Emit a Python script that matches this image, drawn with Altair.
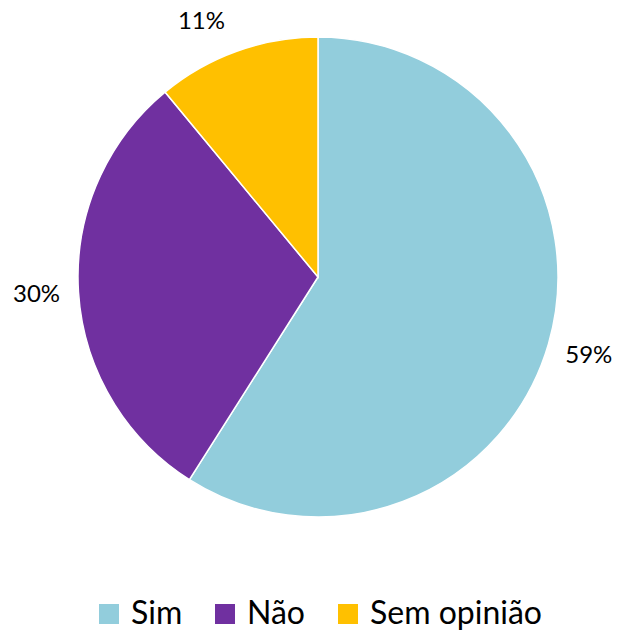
import altair as alt
import pandas as pd

categories = ["Sim", "Não", "Sem opinião"]
values = [59, 30, 11]
labels = ["59%", "30%", "11%"]
colors = ["#92CDDC", "#7030A0", "#FFC000"]

df = pd.DataFrame({"cat": categories, "val": values, "label": labels, "idx": [0, 1, 2]})

base = alt.Chart(df).encode(
    theta=alt.Theta("val:Q", stack=True),
    order=alt.Order("idx:Q"),
)

pie = base.mark_arc(outerRadius=240, stroke="white", strokeWidth=1.5).encode(
    x=alt.value(318),
    y=alt.value(277),
    color=alt.Color(
        "cat:N",
        scale=alt.Scale(domain=categories, range=colors),
        sort=categories,
        legend=alt.Legend(
            title=None,
            orient="none",
            legendX=93,
            legendY=598,
            direction="horizontal",
            symbolType="square",
            symbolSize=400,
            symbolStrokeWidth=0,
            labelFontSize=32,
            labelFont="Lato",
            labelColor="#000000",
            labelOffset=6,
            labelLimit=0,
            columnPadding=26,
            padding=0,
        ),
    ),
)

text_main = base.mark_text(radius=282, fontSize=24, font="Lato", color="#000000").encode(
    x=alt.value(318),
    y=alt.value(277),
    text="label:N",
).transform_filter(alt.datum.cat != "Sem opinião")

text_small = base.mark_text(radius=282, fontSize=24, font="Lato", color="#000000", dx=-21, dy=10).encode(
    x=alt.value(318),
    y=alt.value(277),
    text="label:N",
    opacity=alt.condition(alt.datum.cat == "Sem opinião", alt.value(1), alt.value(0)),
)

chart = (pie + text_main + text_small).properties(
    width=620, height=631, padding=0, autosize=alt.AutoSizeParams(type="none")
).configure_view(stroke=None)

chart.save("out.html", embed_options={"renderer": "svg", "actions": False})
